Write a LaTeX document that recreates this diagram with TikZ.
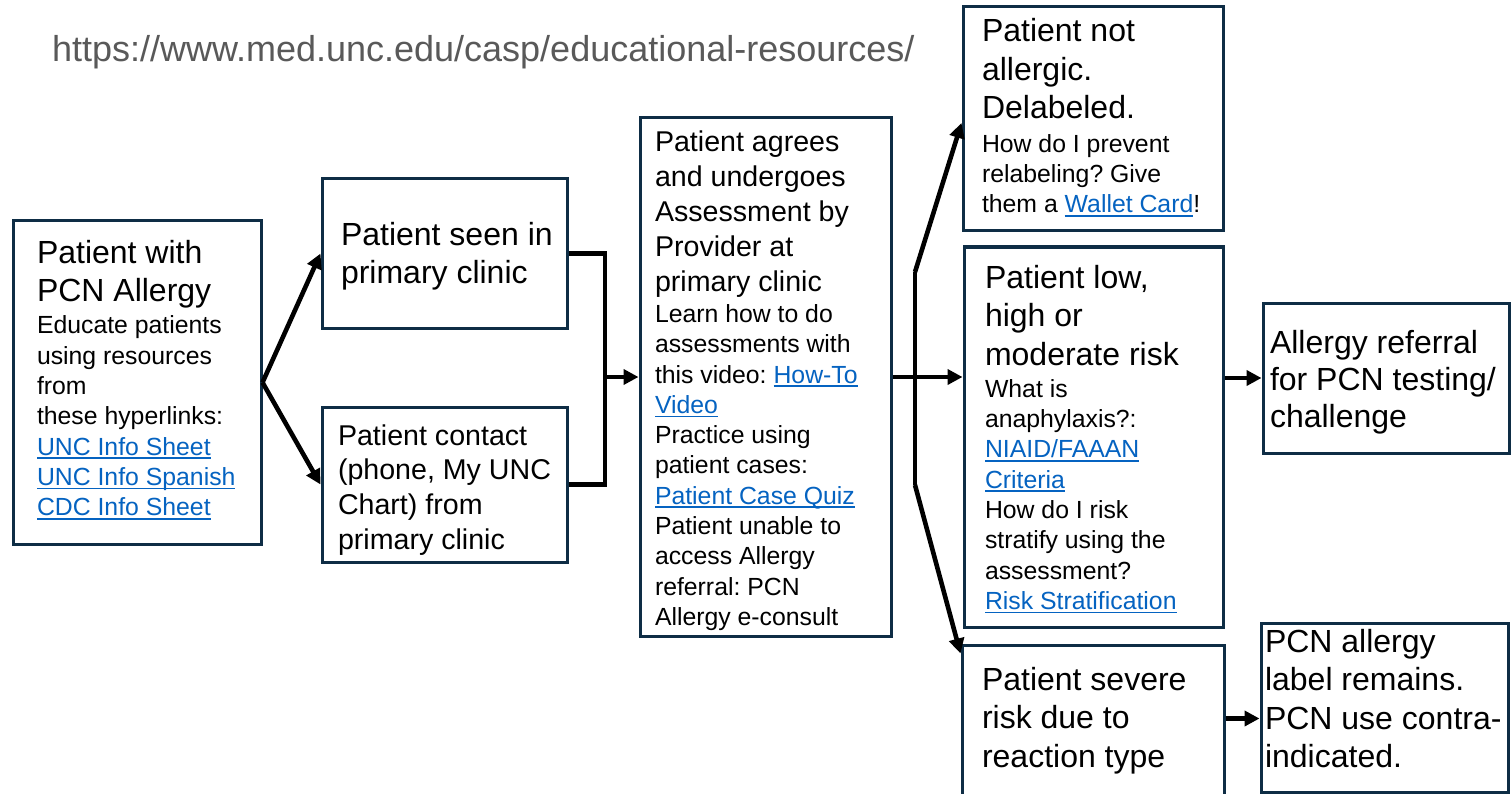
\documentclass[tikz,border=0pt]{standalone}
\usepackage{fontspec}
\setmainfont{Liberation Sans}
\usetikzlibrary{arrows.meta}
\definecolor{boxc}{HTML}{0E2D45}
\definecolor{linkc}{HTML}{0563C1}
\definecolor{urlc}{HTML}{595959}
\frenchspacing
\newcommand\Lg{\fontsize{32}{38.5}\selectfont}
\newcommand\Md{\fontsize{28.6}{34.8}\selectfont}
\newcommand\Sm{\fontsize{24.8}{30.3}\selectfont}
\newcommand\Ln[1]{\hbox{#1}}
\newcommand\lnk[1]{{\color{linkc}\setbox0=\hbox{#1}\rlap{\rule[-4pt]{\wd0}{1.8pt}}\box0}}
\tikzset{
  boxs/.style={draw=boxc, line width=3pt, inner sep=0pt},
  txt/.style={anchor=base west, inner sep=0pt, outer sep=0pt},
  conn/.style={line width=4.6pt, black},
  arr/.style={conn, -{Triangle[length=15pt,width=15pt]}}
}
\begin{document}
\begin{tikzpicture}[x=1pt,y=-1pt]
\useasboundingbox (0,0) rectangle (1511,794);
\fill[white] (0,0) rectangle (1511,794);

% boxes
\node[boxs, minimum width=248pt, minimum height=323pt] (A) at (137,382.5) {};
\node[boxs, minimum width=245pt, minimum height=149pt] (B) at (444.5,253.5) {};
\node[boxs, minimum width=245pt, minimum height=155pt] (C) at (444.5,484.5) {};
\node[boxs, minimum width=251pt, minimum height=518pt] (D) at (765.5,377) {};
\node[boxs, minimum width=260pt, minimum height=224pt] (E) at (1093,119) {};
\node[boxs, minimum width=259pt, minimum height=380pt] (F) at (1093.5,437) {};
\node[boxs, minimum width=246pt, minimum height=150pt] (G) at (1386,378) {};
\node[boxs, minimum width=262pt, minimum height=175pt] (H) at (1093,732.5) {};
\node[boxs, minimum width=247pt, minimum height=169pt] (I) at (1384.5,707.5) {};

% url
\node[txt, text=urlc, font=\fontsize{36}{40}\selectfont] (url) at (52,62) {https://www.med.unc.edu/casp/educational-resources/};

% texts
\node[txt] (tA) at (37,263) {\vtop{\Lg\Ln{Patient with}\Ln{PCN Allergy}\Sm\vskip2pt
  \Ln{Educate patients}\Ln{using resources}\Ln{from}\Ln{these hyperlinks:}
  \Ln{\lnk{UNC Info Sheet}}\Ln{\lnk{UNC Info Spanish}}\Ln{\lnk{CDC Info Sheet}}}};
\node[txt] (tB) at (341,245) {\vtop{\Lg\Ln{Patient seen in}\Ln{primary clinic}}};
\node[txt] (tC) at (338,445) {\vtop{\Md\Ln{Patient contact}\Ln{(phone, My UNC}\Ln{Chart) from}\Ln{primary clinic}}};
\node[txt] (tD) at (655,152) {\vtop{\Md\Ln{Patient agrees}\Ln{and undergoes}\Ln{Assessment by}\Ln{Provider at}\Ln{primary clinic}\Sm\vskip1pt
  \Ln{Learn how to do}\Ln{assessments with}\Ln{this video: \lnk{How-To}}\Ln{\lnk{Video}}
  \Ln{Practice using}\Ln{patient cases:}\Ln{\lnk{Patient Case Quiz}}
  \Ln{Patient unable to}\Ln{access Allergy}\Ln{referral: PCN}\Ln{Allergy e-consult}}};
\node[txt] (tE) at (982,42) {\vtop{\Lg\Ln{Patient not}\Ln{allergic.}\Ln{Delabeled.}\Sm\vskip3pt
  \Ln{How do I prevent}\Ln{relabeling? Give}\Ln{them a \lnk{Wallet Card}!}}};
\node[txt] (tF) at (985,288) {\vtop{\Lg\Ln{Patient low,}\Ln{high or}\Ln{moderate risk}\Sm\vskip2pt
  \Ln{What is}\Ln{anaphylaxis?:}\Ln{\lnk{NIAID/FAAAN}}\Ln{\lnk{Criteria}}
  \Ln{How do I risk}\Ln{stratify using the}\Ln{assessment?}\Ln{\lnk{Risk Stratification}}}};
\node[txt] (tG) at (1270,353) {\vtop{\fontsize{32}{37}\selectfont\Ln{Allergy referral}\Ln{for PCN testing/}\Ln{challenge}}};
\node[txt] (tH) at (982,690) {\vtop{\Lg\Ln{Patient severe}\Ln{risk due to}\Ln{reaction type}}};
\node[txt] (tI) at (1265,652) {\vtop{\Lg\Ln{PCN allergy}\Ln{label remains.}\Ln{PCN use contra-}\Ln{indicated.}}};

% connectors
\coordinate (j1) at (605,377);
\coordinate (t1) at (915,272);
\coordinate (t2) at (915,485);
\coordinate (ein) at ([yshift=-4pt]E.west);
\coordinate (hin) at ([yshift=-10pt]H.north west);
\coordinate (iin) at ([yshift=-11pt]I.west);
\draw[arr] (A.east) -- (B.west);
\draw[arr] (A.east) -- (C.west);
\draw[conn] (B.east) -| (j1) |- (C.east);
\draw[arr] (j1) -- (D.west);
\draw[arr] (D.east) -- (D.east -| F.west);
\draw[conn] (t1) -- (t2);
\draw[arr] (t1) -- (ein);
\draw[arr] (t2) -- (hin);
\draw[arr] (F.east |- G.west) -- (G.west);
\draw[arr] (H.east |- iin) -- (iin);
\end{tikzpicture}
\end{document}
